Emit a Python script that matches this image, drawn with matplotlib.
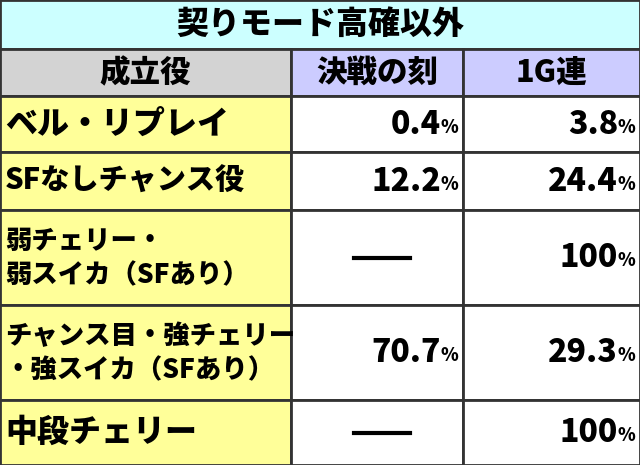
import matplotlib
matplotlib.use("Agg")
import matplotlib.pyplot as plt
from matplotlib.patches import Rectangle

plt.rcParams['font.family'] = ['Noto Sans CJK JP', 'DejaVu Sans']

title = "契りモード高確以外"
headers = ["成立役", "決戦の刻", "1G連"]
roles = ["ベル・リプレイ", "SFなしチャンス役", "弱チェリー・\n弱スイカ（SFあり）", "チャンス目・強チェリー\n・強スイカ（SFあり）", "中段チェリー"]
kessen = ["0.4", "12.2", None, "70.7", None]
renchan = ["3.8", "24.4", "100", "29.3", "100"]

W, H = 640, 465
fig = plt.figure(figsize=(6.4, 4.65), dpi=100)
ax = fig.add_axes([0, 0, 1, 1])
ax.set_xlim(0, W); ax.set_ylim(H, 0); ax.axis('off')

cols = [0, 291, 463, 640]
rows = [0, 49, 96, 152, 210, 305, 400, 465]
ec = '#333333'

def cell(x0, x1, y0, y1, fc):
    ax.add_patch(Rectangle((x0, y0), x1 - x0, y1 - y0, facecolor=fc, edgecolor=ec, lw=2))

cell(0, W, rows[0], rows[1], '#ccffff')
ax.text(W/2, (rows[0]+rows[1])/2, title, ha='center', va='center', fontsize=23, fontweight='black')
hfc = ['#d3d3d3', '#ccccff', '#ccccff']
for i, h in enumerate(headers):
    cell(cols[i], cols[i+1], rows[1], rows[2], hfc[i])
    ax.text((cols[i]+cols[i+1])/2, (rows[1]+rows[2])/2, h, ha='center', va='center', fontsize=22, fontweight='black')

for r, role in enumerate(roles):
    y0, y1 = rows[r+2], rows[r+3]
    yc = (y0+y1)/2
    cell(cols[0], cols[1], y0, y1, '#ffff99')
    cell(cols[1], cols[2], y0, y1, 'white')
    cell(cols[2], cols[3], y0, y1, 'white')
    fs = 19 if '\n' in role else (23 if len(role) <= 7 else 21)
    ax.text(5, yc, role, ha='left', va='center', fontsize=fs, fontweight='black', linespacing=1.25)
    for ci, v in ((1, kessen[r]), (2, renchan[r])):
        xr = cols[ci+1] - 5
        if v is None:
            xc = (cols[ci] + cols[ci+1]) / 2 + 5
            ax.plot([xc - 28, xc + 28], [yc, yc], color='black', lw=3)
        else:
            ax.text(xr, yc + 3, "%", ha='right', va='center', fontsize=13, fontweight='black')
            ax.text(xr - 17, yc, v, ha='right', va='center', fontsize=23, fontweight='black')

fig.savefig("out.png", dpi=100)
